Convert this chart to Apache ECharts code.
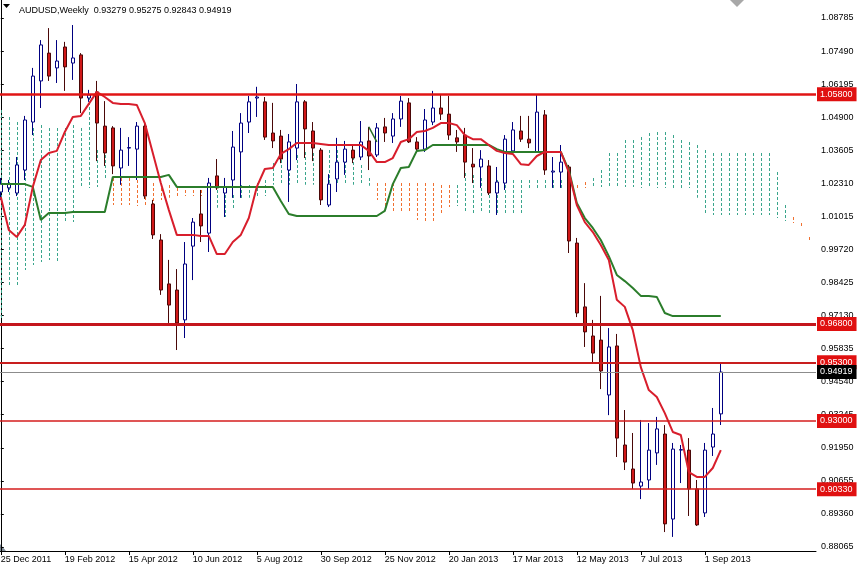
<!DOCTYPE html>
<html><head><meta charset="utf-8">
<script src="https://cdn.jsdelivr.net/npm/echarts@6/dist/echarts.min.js"></script>
<style>html,body{margin:0;padding:0;background:#fff}#c{width:857px;height:566px}</style>
</head><body><div id="c"></div>
<script>
// Weekly candles, index 0 = week of 25 Dec 2011
const openP = [1.0197,1.0213,1.0193,1.0283,1.0471,1.0632,1.0741,1.0683,1.0765,1.0702,
1.0734,1.0565,1.0589,1.0455,1.0448,1.0291,1.0369,1.0365,1.0455,1.0150,
1.0009,0.9837,0.9813,0.9696,0.9985,1.0111,1.0036,1.0260,1.0193,1.0244,
1.0354,1.0471,1.0565,1.0550,1.0428,1.0416,1.0283,1.0369,1.0550,1.0436,
1.0361,1.0146,1.0248,1.0314,1.0361,1.0334,1.0397,1.0342,1.0452,1.0416,
1.0483,1.0546,1.0393,1.0365,1.0471,1.0526,1.0502,1.0409,1.0420,1.0306,
1.0295,1.0299,1.0193,1.0232,1.0358,1.0436,1.0404,1.0354,1.0499,1.0275,
1.0275,1.0295,0.9997,0.9747,0.9633,0.9617,0.9402,0.9594,0.9206,0.9112,
0.9045,0.9069,0.9175,0.9249,0.8916,0.9186,0.9186,0.9034,0.8940,0.9198,
0.93279];
const closeP = [1.0228,1.0228,1.0303,1.0479,1.0651,1.0773,1.0651,1.0710,1.0687,1.0722,
1.0565,1.0577,1.0467,1.0350,1.0299,1.0361,1.0371,1.0455,1.0181,1.0029,
0.9813,0.9754,0.9684,0.9915,1.0079,1.0064,1.0232,1.0213,1.0217,1.0373,
1.0467,1.0550,1.0569,1.0412,1.0397,1.0326,1.0393,1.0550,1.0444,1.0369,
1.0166,1.0228,1.0314,1.0365,1.0330,1.0393,1.0338,1.0448,1.0428,1.0483,
1.0553,1.0393,1.0365,1.0479,1.0526,1.0502,1.0420,1.0393,1.0314,1.0295,
1.0326,1.0193,1.0236,1.0404,1.0440,1.0404,1.0389,1.0510,1.0283,1.0279,
1.0314,1.0005,0.9723,0.9649,0.9566,0.9496,0.9590,0.9233,0.9139,0.9057,
0.9061,0.9186,0.9269,0.8897,0.9190,0.9188,0.9034,0.8893,0.9186,0.9249,
0.94919];
const lowP = [1.0166,1.0197,1.0181,1.0244,1.0420,1.0526,1.0632,1.0624,1.0593,1.0636,
1.0506,1.0550,1.0318,1.0299,1.0267,1.0225,1.0299,1.0244,1.0170,1.0013,
0.9794,0.9684,0.9578,0.9625,0.9852,1.0001,0.9962,1.0205,1.0099,1.0174,
1.0174,1.0428,1.0491,1.0401,1.0369,1.0310,1.0158,1.0322,1.0330,1.0318,
1.0146,1.0138,1.0197,1.0264,1.0310,1.0322,1.0283,1.0334,1.0393,1.0389,
1.0452,1.0389,1.0350,1.0354,1.0459,1.0479,1.0401,1.0354,1.0252,1.0232,
1.0213,1.0185,1.0107,1.0205,1.0350,1.0393,1.0369,1.0350,1.0264,1.0213,
1.0213,0.9958,0.9707,0.9590,0.9527,0.9425,0.9323,0.9159,0.9108,0.9034,
0.8994,0.9034,0.9128,0.8865,0.8846,0.9057,0.8928,0.8889,0.8924,0.9163,
0.92843];
const highP = [1.0252,1.0244,1.0334,1.0495,1.0683,1.0792,1.0839,1.0792,1.0785,1.0851,
1.0741,1.0597,1.0632,1.0553,1.0455,1.0448,1.0412,1.0471,1.0467,1.0166,
1.0032,0.9931,0.9895,1.0001,1.0095,1.0205,1.0252,1.0326,1.0252,1.0436,
1.0506,1.0573,1.0609,1.0569,1.0546,1.0440,1.0424,1.0620,1.0557,1.0471,
1.0369,1.0267,1.0409,1.0397,1.0381,1.0475,1.0452,1.0467,1.0487,1.0506,
1.0573,1.0565,1.0412,1.0522,1.0593,1.0577,1.0573,1.0440,1.0448,1.0369,
1.0361,1.0322,1.0295,1.0420,1.0471,1.0495,1.0495,1.0577,1.0518,1.0334,
1.0381,1.0303,1.0017,0.9840,0.9696,0.9790,0.9664,0.9641,0.9343,0.9253,
0.9304,0.9292,0.9316,0.9284,0.9214,0.9206,0.9233,0.9069,0.9214,0.9351,
0.95275];

// Ichimoku lines
const tenkan = [1.0177,1.0048,1.0021,1.0068,1.0217,1.0322,1.0350,1.0358,1.0432,1.0491,
1.0495,1.0542,1.0589,1.0569,1.0546,1.0542,1.0542,1.0538,1.0467,1.0350,
1.0232,1.0127,1.0029,1.0029,1.0029,1.0025,1.0025,0.9954,0.9954,1.0001,
1.0029,1.0095,1.0217,1.0287,1.0291,1.0346,1.0365,1.0389,1.0389,1.0389,
1.0385,1.0381,1.0381,1.0381,1.0381,1.0381,1.0358,1.0314,1.0314,1.0330,
1.0393,1.0404,1.0432,1.0436,1.0448,1.0467,1.0467,1.0459,1.0420,1.0404,
1.0404,1.0381,1.0358,1.0350,1.0346,1.0306,1.0303,1.0338,1.0354,1.0354,
1.0354,1.0275,1.0146,1.0079,1.0040,0.9989,0.9931,0.9775,0.9747,0.9656,
0.9511,0.9421,0.9394,0.9331,0.9257,0.9245,0.9100,0.9081,0.9081,0.9116,
0.9186];
const kijun = [1.0228,1.0228,1.0228,1.0228,1.0217,1.0087,1.0115,1.0115,1.0115,1.0119,
1.0119,1.0119,1.0119,1.0119,1.0256,1.0256,1.0256,1.0256,1.0256,1.0256,
1.0256,1.0264,1.0217,1.0217,1.0217,1.0217,1.0217,1.0217,1.0217,1.0217,
1.0217,1.0217,1.0217,1.0217,1.0217,1.0162,1.0111,1.0103,1.0103,1.0103,
1.0103,1.0103,1.0103,1.0103,1.0103,1.0103,1.0103,1.0103,1.0123,1.0228,
1.0291,1.0295,1.0358,1.0361,1.0381,1.0381,1.0381,1.0381,1.0381,1.0381,
1.0381,1.0381,1.0365,1.0354,1.0354,1.0354,1.0354,1.0354,1.0354,1.0354,
1.0354,1.0283,1.0154,1.0095,1.0056,1.0009,0.9946,0.9872,0.9848,0.9821,
0.9790,0.9790,0.9786,0.9723,0.9711,0.9711,0.9711,0.9711,0.9711,0.9711,
0.9711];
// cloud (Senkou span A / B), extends beyond the last candle in view
const spanA = [1.0518,1.0491,1.0471,1.0448,1.0448,1.0459,1.0448,1.0448,1.0448,1.0459,
1.0448,1.0569,1.0361,1.0361,1.0146,1.0146,1.0146,1.0146,1.0146,1.0150,
1.0166,1.0174,1.0177,1.0181,1.0181,1.0185,1.0205,1.0205,1.0185,1.0185,
1.0225,1.0225,1.0232,1.0244,1.0310,1.0322,1.0330,1.0342,1.0354,1.0350,
1.0361,1.0361,1.0361,1.0361,1.0354,1.0303,1.0252,1.0166,1.0127,1.0119,
1.0115,1.0115,1.0087,1.0079,1.0079,1.0115,1.0138,1.0225,1.0271,1.0264,
1.0252,1.0244,1.0244,1.0244,1.0244,1.0244,1.0244,1.0244,1.0244,1.0244,
1.0244,1.0205,1.0205,1.0213,1.0252,1.0283,1.0350,1.0350,1.0401,1.0401,
1.0412,1.0428,1.0432,1.0432,1.0420,1.0401,1.0393,1.0381,1.0361,1.0350,
1.0350,1.0350,1.0350,1.0350,1.0350,1.0350,1.0350,1.0275,1.0146,1.0079,
1.0060,1.0009];
const spanB = [0.9696,0.9825,0.9825,0.9891,0.9911,0.9923,0.9931,0.9923,1.0079,1.0079,
1.0213,1.0213,1.0217,1.0252,1.0252,1.0252,1.0252,1.0244,1.0236,1.0232,
1.0232,1.0225,1.0213,1.0205,1.0205,1.0205,1.0189,1.0135,1.0099,1.0127,
1.0166,1.0174,1.0181,1.0185,1.0225,1.0225,1.0225,1.0225,1.0225,1.0225,
1.0225,1.0225,1.0225,1.0225,1.0225,1.0225,1.0221,1.0232,1.0232,1.0232,
1.0232,1.0232,1.0232,1.0232,1.0232,1.0225,1.0225,1.0146,1.0115,1.0115,
1.0115,1.0115,1.0115,1.0115,1.0115,1.0115,1.0213,1.0213,1.0213,1.0213,
1.0213,1.0225,1.0225,1.0236,1.0213,1.0217,1.0217,1.0217,1.0217,1.0217,
1.0213,1.0213,1.0213,1.0213,1.0213,1.0213,1.0213,1.0174,1.0107,1.0107,
1.0107,1.0107,1.0107,1.0107,1.0107,1.0107,1.0107,1.0099,1.0087,1.0099,
1.0076,1.0021];
const fragIdx = [46, 47];
const fragVal = [1.0452, 1.0393];

const levels = [1.058, 0.968, 0.953, 0.930, 0.9033];
const yTicks = [1.08785,1.07490,1.06195,1.04900,1.03605,1.02310,1.01015,0.99720,0.98425,
0.97130,0.95835,0.94540,0.93245,0.91950,0.90655,0.89360,0.88065];
const xTickIdx = [0,8,16,24,32,40,48,56,64,72,80,88];
const xLabels = ['25 Dec 2011','19 Feb 2012','15 Apr 2012','10 Jun 2012','5 Aug 2012','30 Sep 2012',
'25 Nov 2012','20 Jan 2013','17 Mar 2013','12 May 2013','7 Jul 2013','1 Sep 2013'];
const symbolName = 'AUDUSD,Weekly';

const FONT = 'Liberation Sans, Arial, sans-serif';
const last = openP.length - 1;
const levelStyle = [
  {c:'#e01414', w:2.5}, {c:'#c4161c', w:3}, {c:'#c81e1e', w:2}, {c:'#d41c1c', w:1.5}, {c:'#d41c1c', w:1.5}
];
const tag = (bg) => ({show:true, position:'end', distance:1, color:'#fff', backgroundColor:bg,
  padding:[2,4,2,3], fontSize:9, lineHeight:10, fontFamily:FONT,
  formatter: p => Number(p.value).toFixed(5)});

const mlData = levels.map((v,i)=>({yAxis:v, lineStyle:{color:levelStyle[i].c, width:levelStyle[i].w, type:'solid', opacity:1}, label:tag('#e01010')}));
mlData.push({yAxis: closeP[last], lineStyle:{color:'#8c8c8c', width:1, type:'solid', opacity:1}, label:tag('#000')});

const UP_COL = '#3aa58c', DOWN_COL = '#f07030';
const cloudRender = (params, api) => {
  const i = api.value(0), a = api.value(1), b = api.value(2);
  const p1 = api.coord([i, a]), p2 = api.coord([i, b]);
  const x = Math.round(p1[0]);
  const top = Math.min(p1[1], p2[1]), bot = Math.max(p1[1], p2[1]);
  const col = a >= b ? UP_COL : DOWN_COL;
  const kids = [];
  for (let y = Math.round(top); y < bot; y += 5) {
    kids.push({type:'rect', shape:{x:x, y:y, width:1, height:Math.min(3, Math.max(1, bot - y))},
      style:{fill:col, stroke:null}});
  }
  return {type:'group', children:kids};
};

const chart = echarts.init(document.getElementById('c'), null, {renderer:'canvas'});
chart.setOption({
  animation:false,
  backgroundColor:'#fff',
  title:{text: symbolName + '  ' + [openP[last],highP[last],lowP[last],closeP[last]].map(v=>v.toFixed(5)).join(' '),
    left:14, top:1, textStyle:{fontSize:9, fontWeight:'normal', color:'#000', fontFamily:FONT}},
  grid:{left:0, top:0, right:41, bottom:15, containLabel:false, outerBoundsMode:'none'},
  xAxis:{type:'value', min:-0.1, max:101.9,
    axisLine:{show:true, onZero:false, lineStyle:{color:'#000', width:1}},
    axisTick:{show:true, length:4, customValues:xTickIdx, lineStyle:{color:'#000'}},
    axisLabel:{customValues:xTickIdx, align:'left', margin:4, fontSize:9, color:'#000', fontFamily:FONT,
      formatter: v => xLabels[xTickIdx.indexOf(Math.round(v))] || ''},
    splitLine:{show:false}},
  yAxis:{type:'value', position:'right', min:0.87908, max:1.0949, scale:true,
    axisLine:{show:true, lineStyle:{color:'#000', width:1}},
    axisTick:{show:true, length:3, customValues:yTicks, lineStyle:{color:'#000'}},
    axisLabel:{customValues:yTicks, margin:5, fontSize:9, color:'#000', fontFamily:FONT,
      formatter: v => Number(v).toFixed(5)},
    splitLine:{show:false}},
  graphic:[
    {type:'polygon', shape:{points:[[3,4],[10,4],[6.5,8]]}, style:{fill:'#000'}},
    {type:'polygon', shape:{points:[[730,0],[744,0],[737,7]]}, style:{fill:'#a8a8a8'}},
    {type:'polygon', shape:{points:[[0,544],[0,551],[6,551]]}, style:{fill:'#7d8a96'}}
  ],
  series:[
    {type:'custom', name:'cloud', z:1, silent:true, clip:true,
      data: spanA.map((a,i)=>[i, a, spanB[i]]), encode:{x:0, y:[1,2]}, renderItem: cloudRender},
    {type:'candlestick', name:'AUDUSD', z:2, layout:'horizontal', barWidth:4,
      data: openP.map((o,i)=>[i, o, closeP[i], lowP[i], highP[i]]),
      encode:{x:0, y:[1,2,3,4]},
      itemStyle:{color:'#ffffff', color0:'#d01818', borderColor:'#000080', borderColor0:'#4a0808', borderWidth:1},
      emphasis:{disabled:true}},
    {type:'line', name:'kijun', z:3, symbol:'none', data: kijun.map((v,i)=>[i,v]),
      lineStyle:{color:'#2b7d2b', width:2}, emphasis:{disabled:true}},
    {type:'line', name:'tenkan', z:4, symbol:'none', data: tenkan.map((v,i)=>[i,v]),
      lineStyle:{color:'#d81e2c', width:2}, emphasis:{disabled:true}},
    {type:'line', name:'frag', z:4, symbol:'none', data: fragIdx.map((x,i)=>[x, fragVal[i]]),
      lineStyle:{color:'#2b6e2b', width:1.5}, emphasis:{disabled:true}},
    {type:'line', name:'levels', z:5, data:[], clip:false, silent:true,
      markLine:{symbol:'none', silent:true, animation:false, precision:5, data: mlData, emphasis:{disabled:true}}}
  ]
});
</script>
</body></html>
